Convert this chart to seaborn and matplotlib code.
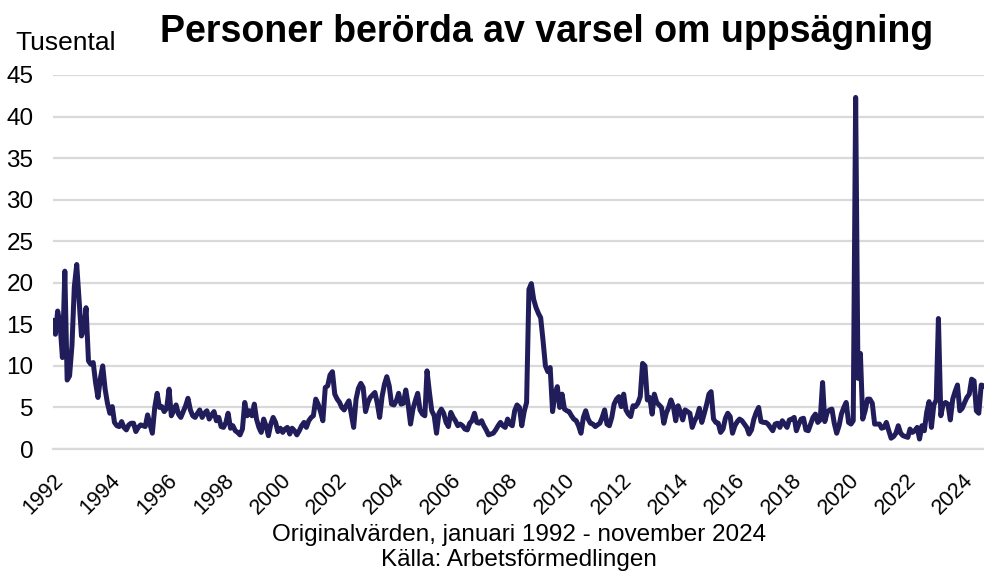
import pandas as pd
import numpy as np
import matplotlib
matplotlib.use('Agg')
import matplotlib.pyplot as plt
import matplotlib.dates as mdates
import seaborn as sns

# Monthly values, thousands of persons
y1992 = [15.5, 13.8, 16.6, 15.0, 11.0, 21.4, 8.3, 8.8, 12.5, 19.5, 22.2, 18.0]
y1993 = [13.6, 14.5, 17.0, 10.6, 10.2, 10.4, 8.0, 6.2, 8.5, 10.0, 7.2, 5.5]
y1994 = [4.3, 5.1, 3.2, 2.8, 2.7, 3.3, 2.6, 2.3, 2.9, 3.1, 3.1, 2.1]
y1995 = [2.6, 2.9, 2.8, 2.7, 4.1, 3.0, 1.9, 5.0, 6.7, 5.0, 5.1, 4.5]
y1996 = [4.9, 7.2, 4.0, 4.6, 5.3, 4.2, 3.8, 4.5, 5.2, 6.1, 4.7, 4.0]
y1997 = [3.8, 4.3, 4.7, 3.8, 4.3, 4.6, 3.6, 4.1, 4.5, 3.4, 3.8, 2.7]
y1998 = [2.6, 3.2, 4.3, 2.5, 2.8, 2.2, 2.0, 1.7, 2.4, 5.6, 4.0, 4.6]
y1999 = [4.0, 5.4, 3.6, 2.6, 2.0, 3.6, 2.8, 1.6, 3.0, 3.8, 3.2, 2.1]
y2000 = [2.5, 2.0, 2.4, 2.6, 1.8, 2.5, 2.2, 1.7, 2.2, 2.8, 3.2, 2.6]
y2001 = [3.4, 3.8, 4.0, 6.0, 5.4, 4.5, 3.4, 7.4, 7.6, 8.9, 9.3, 6.6]
y2002 = [6.0, 5.6, 5.0, 4.7, 5.3, 5.8, 4.2, 2.6, 6.0, 7.3, 7.9, 7.4]
y2003 = [4.5, 5.6, 6.2, 6.5, 6.8, 5.5, 3.8, 6.3, 7.8, 8.7, 7.6, 5.4]
y2004 = [5.3, 5.8, 6.7, 5.4, 5.5, 7.1, 5.4, 3.0, 4.8, 5.8, 6.7, 4.7]
y2005 = [4.2, 4.0, 9.4, 6.8, 4.6, 4.0, 1.9, 4.3, 4.8, 4.3, 3.2, 2.7]
y2006 = [4.4, 3.8, 3.4, 2.8, 3.0, 2.8, 2.4, 2.3, 3.1, 3.4, 4.3, 3.2]
y2007 = [3.1, 3.4, 2.8, 2.3, 1.7, 1.8, 1.9, 2.3, 2.8, 3.2, 2.8, 2.6]
y2008 = [3.6, 3.0, 2.8, 4.6, 5.3, 5.0, 2.8, 4.5, 5.6, 19.2, 19.9, 18.0]
y2009 = [17.0, 16.3, 15.8, 13.0, 10.0, 9.3, 9.8, 4.5, 6.6, 7.5, 5.0, 6.6]
y2010 = [4.8, 4.6, 4.5, 4.0, 3.6, 3.4, 2.8, 1.9, 3.8, 4.6, 3.6, 3.1]
y2011 = [3.0, 2.7, 2.9, 3.1, 3.8, 4.7, 3.0, 2.8, 3.8, 5.4, 6.0, 6.3]
y2012 = [5.1, 6.6, 4.7, 4.2, 3.9, 5.2, 5.1, 5.5, 6.3, 10.3, 10.0, 5.9]
y2013 = [6.2, 4.2, 6.6, 5.6, 5.3, 5.0, 3.1, 4.3, 5.0, 5.9, 5.1, 3.4]
y2014 = [5.2, 4.4, 3.5, 4.7, 4.5, 4.3, 2.6, 3.4, 3.9, 4.9, 3.2, 4.2]
y2015 = [5.3, 6.6, 6.9, 3.6, 3.2, 3.1, 2.0, 2.4, 3.7, 4.3, 3.9, 1.9]
y2016 = [2.8, 3.3, 3.6, 3.4, 3.0, 2.6, 1.8, 2.3, 3.6, 4.4, 5.0, 3.3]
y2017 = [3.2, 3.2, 3.0, 2.6, 2.2, 3.0, 3.1, 2.6, 3.4, 3.0, 2.6, 3.5]
y2018 = [3.6, 3.8, 2.2, 3.0, 3.6, 3.7, 2.3, 2.2, 3.0, 3.8, 4.2, 3.2]
y2019 = [3.5, 8.0, 3.3, 4.4, 4.7, 4.8, 3.1, 1.9, 2.8, 4.2, 5.0, 5.6]
y2020 = [3.2, 3.0, 3.4, 42.3, 8.5, 11.5, 3.6, 4.6, 6.0, 6.0, 5.5, 3.0]
y2021 = [3.0, 3.0, 2.5, 2.6, 3.2, 2.2, 1.3, 1.5, 1.9, 2.8, 1.9, 1.6]
y2022 = [1.5, 1.4, 2.4, 2.0, 2.2, 2.6, 1.2, 2.8, 2.2, 4.4, 5.7, 2.6]
y2023 = [5.3, 5.9, 15.7, 4.0, 5.4, 5.6, 5.4, 3.5, 6.0, 6.9, 7.7, 4.6]
y2024 = [4.9, 5.6, 6.2, 6.6, 8.4, 8.2, 4.6, 4.3, 7.7, 7.6, 7.4]

years = [y1992, y1993, y1994, y1995, y1996, y1997, y1998, y1999, y2000, y2001,
         y2002, y2003, y2004, y2005, y2006, y2007, y2008, y2009, y2010, y2011,
         y2012, y2013, y2014, y2015, y2016, y2017, y2018, y2019, y2020, y2021,
         y2022, y2023, y2024]
values = [v for yr in years for v in yr]

df = pd.DataFrame({
    'Månad': pd.date_range('1992-01-01', periods=len(values), freq='MS'),
    'Tusental': values,
})

tick_years = list(range(1992, 2025, 2))

# Style
sns.set_style('white')
plt.rcParams['font.family'] = ['Liberation Sans', 'DejaVu Sans']
plt.rcParams['text.color'] = 'black'
plt.rcParams['xtick.labelcolor'] = 'black'
plt.rcParams['ytick.labelcolor'] = 'black'

line_color = '#211D5B'
grid_color = '#D9D9D9'

fig = plt.figure(figsize=(9.84, 5.73), dpi=100)
ax = fig.add_axes([53 / 984, 1 - 449 / 573, (984 - 53) / 984, (449 - 75) / 573])

sns.lineplot(data=df, x='Månad', y='Tusental', color=line_color, linewidth=3.6, ax=ax)

ax.set_ylim(0, 45)
ax.set_yticks(range(0, 46, 5))
ax.set_xlim(pd.Timestamp('1992-01-01'), pd.Timestamp('2024-10-07'))
ax.set_xticks([pd.Timestamp(f'{y}-01-01') for y in tick_years])
ax.xaxis.set_major_formatter(mdates.DateFormatter('%Y'))

ax.grid(axis='y', color=grid_color, linewidth=1.6)
ax.set_axisbelow(True)
for side in ['top', 'right', 'left']:
    ax.spines[side].set_visible(False)
ax.spines['bottom'].set_color(grid_color)
ax.spines['bottom'].set_linewidth(1.6)

ax.tick_params(axis='y', length=0, pad=14, labelsize=17.5, labelcolor='black')
ax.tick_params(axis='x', direction='in', length=4.7, width=1.6, color=grid_color,
               pad=15, labelsize=15.5, labelcolor='black')
for lbl in ax.get_xticklabels():
    lbl.set_rotation(45)
    lbl.set_ha('right')
    lbl.set_va('top')
    lbl.set_rotation_mode('anchor')

ax.set_xlabel('')
ax.set_ylabel('')

fig.text(0.556, 1 - 42 / 573, 'Personer berörda av varsel om uppsägning',
         ha='center', va='baseline', fontsize=27, fontweight='bold', color='black')
fig.text(15 / 984, 1 - 49.5 / 573, 'Tusental', ha='left', va='baseline',
         fontsize=19, color='black')
fig.text(0.527, 1 - 541 / 573, 'Originalvärden, januari 1992 - november 2024',
         ha='center', va='baseline', fontsize=17.5, color='black')
fig.text(0.527, 1 - 566 / 573, 'Källa: Arbetsförmedlingen',
         ha='center', va='baseline', fontsize=17.5, color='black')

fig.savefig('out.png', dpi=100)
